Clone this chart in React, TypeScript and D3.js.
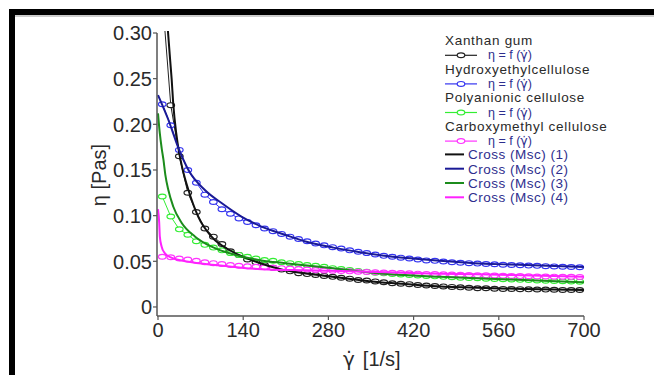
import React from "react";
import * as d3 from "d3";

// Shear rates of the measured points [1/s]
const shearRate = [7, 21, 35, 49, 63, 77, 91, 105, 119, 133, 147, 161, 175, 189, 203, 217, 231, 245, 259, 273, 287, 301, 315, 329, 343, 357, 371, 385, 399, 413, 427, 441, 455, 469, 483, 497, 511, 525, 539, 553, 567, 581, 595, 609, 623, 637, 651, 665, 679, 693];

// Measured viscosity [Pa s]
const xanthanEta = [0.34, 0.221, 0.165, 0.125, 0.104, 0.086, 0.077, 0.069, 0.061, 0.057, 0.052, 0.049, 0.046, 0.043, 0.041, 0.039, 0.037, 0.036, 0.035, 0.034, 0.033, 0.032, 0.031, 0.0295, 0.029, 0.028, 0.027, 0.026, 0.0255, 0.025, 0.024, 0.0235, 0.023, 0.0225, 0.022, 0.0215, 0.021, 0.0205, 0.0205, 0.02, 0.0198, 0.0197, 0.0195, 0.0193, 0.0192, 0.019, 0.0188, 0.0187, 0.0186, 0.0185];
const hecEta = [0.222, 0.199, 0.172, 0.15, 0.136, 0.123, 0.115, 0.107, 0.102, 0.097, 0.093, 0.0895, 0.086, 0.083, 0.08, 0.077, 0.0745, 0.072, 0.0695, 0.0675, 0.0655, 0.064, 0.062, 0.0605, 0.059, 0.0575, 0.056, 0.055, 0.054, 0.053, 0.052, 0.051, 0.0505, 0.0498, 0.049, 0.0485, 0.048, 0.0475, 0.047, 0.0467, 0.0463, 0.046, 0.0456, 0.0453, 0.045, 0.0447, 0.0444, 0.0441, 0.0438, 0.0435];
const pacEta = [0.121, 0.099, 0.085, 0.079, 0.072, 0.068, 0.065, 0.062, 0.059, 0.057, 0.055, 0.053, 0.0515, 0.0505, 0.049, 0.048, 0.047, 0.046, 0.045, 0.044, 0.0425, 0.0415, 0.0405, 0.0395, 0.0385, 0.0375, 0.037, 0.036, 0.0355, 0.035, 0.0345, 0.034, 0.0335, 0.033, 0.0325, 0.032, 0.0317, 0.0314, 0.031, 0.0307, 0.0304, 0.03, 0.0297, 0.0294, 0.0291, 0.0288, 0.0285, 0.0282, 0.028, 0.0277];
const cmcEta = [0.055, 0.0545, 0.053, 0.052, 0.0505, 0.049, 0.048, 0.047, 0.046, 0.045, 0.0445, 0.044, 0.0435, 0.043, 0.0425, 0.042, 0.0415, 0.041, 0.0405, 0.04, 0.0397, 0.0394, 0.039, 0.0387, 0.0384, 0.038, 0.0377, 0.0374, 0.0371, 0.0368, 0.0365, 0.0362, 0.036, 0.0357, 0.0355, 0.0352, 0.035, 0.0348, 0.0346, 0.0344, 0.0342, 0.034, 0.0338, 0.0336, 0.0334, 0.0333, 0.0332, 0.0331, 0.033, 0.0329];

// Cross model fit curves
const xanthanFitRate = [16, 20, 22.5, 25, 30, 35, 40, 50, 66, 88, 121, 159, 203, 250, 300, 350, 400, 450, 500, 550, 600, 650, 700];
const xanthanFitEta = [0.305, 0.27, 0.249, 0.223, 0.19, 0.168, 0.152, 0.128, 0.099, 0.077, 0.061, 0.05, 0.041, 0.036, 0.032, 0.028, 0.0255, 0.023, 0.0215, 0.0205, 0.0197, 0.019, 0.0186];
const hecFitRate = [0, 17, 33, 50, 77, 105, 137, 170, 209, 244, 288, 332, 376, 420, 463, 520, 578, 640, 700];
const hecFitEta = [0.232, 0.205, 0.175, 0.15, 0.128, 0.1135, 0.099, 0.088, 0.079, 0.0715, 0.065, 0.06, 0.0558, 0.053, 0.0505, 0.048, 0.0465, 0.045, 0.0437];
const pacFitRate = [0, 3, 6, 9, 12, 17, 25, 39, 61, 88, 127, 170, 209, 288, 376, 463, 580, 700];
const pacFitEta = [0.212, 0.19, 0.174, 0.161, 0.145, 0.128, 0.11, 0.092, 0.077, 0.066, 0.057, 0.051, 0.048, 0.0424, 0.036, 0.033, 0.03, 0.027];
const cmcFitRate = [0, 2, 3, 6, 11, 22, 50, 94, 137, 181, 240, 300, 376, 463, 580, 700];
const cmcFitEta = [0.107, 0.092, 0.077, 0.066, 0.059, 0.054, 0.0495, 0.046, 0.043, 0.041, 0.0402, 0.0393, 0.038, 0.0365, 0.035, 0.033];

const sampleNames = ["Xanthan gum", "Hydroxyethylcellulose", "Polyanionic cellulose", "Carboxymethyl cellulose"];
const fitNames = ["Cross (Msc) (1)", "Cross (Msc) (2)", "Cross (Msc) (3)", "Cross (Msc) (4)"];
const xTicks = [0, 140, 280, 420, 560, 700];
const yTicks = [0, 0.05, 0.1, 0.15, 0.2, 0.25, 0.3];
const yTickLabels = ["0", "0.05", "0.10", "0.15", "0.20", "0.25", "0.30"];

const markerColors = ["#222222", "#3434f0", "#33ee33", "#ff33ff"];
const fitColors = ["#111111", "#1a1a96", "#1c8c1c", "#ff22ff"];

const FONT = "'Liberation Sans', Arial, sans-serif";
const GFONT = "'DejaVu Sans', sans-serif";

export default function App() {
  const x = d3.scaleLinear().domain([0, 700]).range([158, 584]);
  const y = d3.scaleLinear().domain([-0.01, 0.3]).range([316.1, 33]);

  const measured = [xanthanEta, hecEta, pacEta, cmcEta];
  const fits: [number[], number[]][] = [
    [xanthanFitRate, xanthanFitEta],
    [hecFitRate, hecFitEta],
    [pacFitRate, pacFitEta],
    [cmcFitRate, cmcFitEta],
  ];

  const lineGen = d3
    .line<[number, number]>()
    .x((d) => x(d[0]))
    .y((d) => y(d[1]));
  const fitGen = d3
    .line<[number, number]>()
    .x((d) => x(d[0]))
    .y((d) => y(d[1]))
    .curve(d3.curveMonotoneX);

  const legendX = 445;
  const rowBase = 45;
  const rowStep = 14.3;

  return (
    <svg
      width={654}
      height={375}
      style={{ position: "absolute", left: 0, top: 0, background: "#fff" }}
      fontFamily={FONT}
    >
      <defs>
        <clipPath id="plotClip">
          <rect x={150} y={31} width={440} height={285} />
        </clipPath>
      </defs>
      <rect x={0} y={0} width={654} height={375} fill="#fff" />
      {/* frame */}
      <rect x={9} y={9} width={645} height={6} fill="#000" />
      <rect x={9} y={9} width={6} height={366} fill="#000" />
      <line x1={15} x2={654} y1={16} y2={16} stroke="#999" strokeWidth={1} />

      {/* data */}
      <g clipPath="url(#plotClip)">
        {measured.map((eta, si) => {
          const pts: [number, number][] = shearRate.map((r, i) => [r, eta[i]]);
          return (
            <g key={"m" + si}>
              <path d={lineGen(pts) || ""} fill="none" stroke={markerColors[si]} strokeWidth={1} />
              {pts.map((p, i) => (
                <ellipse
                  key={i}
                  cx={x(p[0])}
                  cy={y(p[1])}
                  rx={3.8}
                  ry={2.4}
                  fill="#fff"
                  stroke={markerColors[si]}
                  strokeWidth={1.2}
                />
              ))}
            </g>
          );
        })}
        {fits.map(([rates, etas], si) => {
          const pts: [number, number][] = rates.map((r, i) => [r, etas[i]]);
          return (
            <path
              key={"f" + si}
              d={fitGen(pts) || ""}
              fill="none"
              stroke={fitColors[si]}
              strokeWidth={2}
            />
          );
        })}
      </g>

      {/* axes */}
      <line x1={157} x2={157} y1={y(0.3)} y2={316} stroke="#555" strokeWidth={1.5} />
      <line x1={157} x2={x(700)} y1={316} y2={316} stroke="#555" strokeWidth={1.5} />
      {yTicks.map((t, i) => (
        <g key={"yt" + i}>
          <line x1={153} x2={157} y1={y(t)} y2={y(t)} stroke="#555" strokeWidth={1.2} />
          <text
            x={152}
            y={y(t)}
            dy="0.36em"
            textAnchor="end"
            fontSize={20}
            fill="#2a2a2a"
          >
            {yTickLabels[i]}
          </text>
        </g>
      ))}
      {xTicks.map((t, i) => (
        <g key={"xt" + i}>
          <line x1={x(t)} x2={x(t)} y1={316} y2={320} stroke="#555" strokeWidth={1.2} />
          <text x={x(t)} y={337} textAnchor="middle" fontSize={20} fill="#2a2a2a">
            {t}
          </text>
        </g>
      ))}

      {/* axis titles */}
      <text
        transform="translate(106,175) rotate(-90)"
        textAnchor="middle"
        fontSize={20}
        fill="#2a2a2a"
      >
        η  [Pas]
      </text>
      <text x={343} y={366} fontSize={20} fill="#2a2a2a">
        <tspan fontFamily={GFONT}>γ̇</tspan>
        <tspan dx={8}>[1/s]</tspan>
      </text>

      {/* legend */}
      {sampleNames.map((name, i) => {
        const yName = rowBase + i * 2 * rowStep;
        const ySym = yName + rowStep;
        return (
          <g key={"lg" + i}>
            <text x={legendX} y={yName} fontSize={13.5} letterSpacing={0.7} fill="#2a2a2a">
              {name}
            </text>
            <line
              x1={legendX}
              x2={legendX + 32}
              y1={ySym - 4}
              y2={ySym - 4}
              stroke={markerColors[i]}
              strokeWidth={1.2}
            />
            <ellipse
              cx={legendX + 16}
              cy={ySym - 4}
              rx={3.8}
              ry={2.4}
              fill="#fff"
              stroke={markerColors[i]}
              strokeWidth={1.2}
            />
            <text x={legendX + 43} y={ySym} fontSize={12.5} fill="#2e2e8e">
              η = f (<tspan fontFamily={GFONT}>γ̇</tspan>)
            </text>
          </g>
        );
      })}
      {fitNames.map((name, i) => {
        const yy = rowBase + (8 + i) * rowStep;
        return (
          <g key={"lf" + i}>
            <line
              x1={legendX}
              x2={legendX + 19}
              y1={yy - 5}
              y2={yy - 5}
              stroke={fitColors[i]}
              strokeWidth={2}
            />
            <text x={legendX + 23} y={yy} fontSize={13.5} letterSpacing={0.5} fill="#2e2e8e">
              {name}
            </text>
          </g>
        );
      })}
    </svg>
  );
}
